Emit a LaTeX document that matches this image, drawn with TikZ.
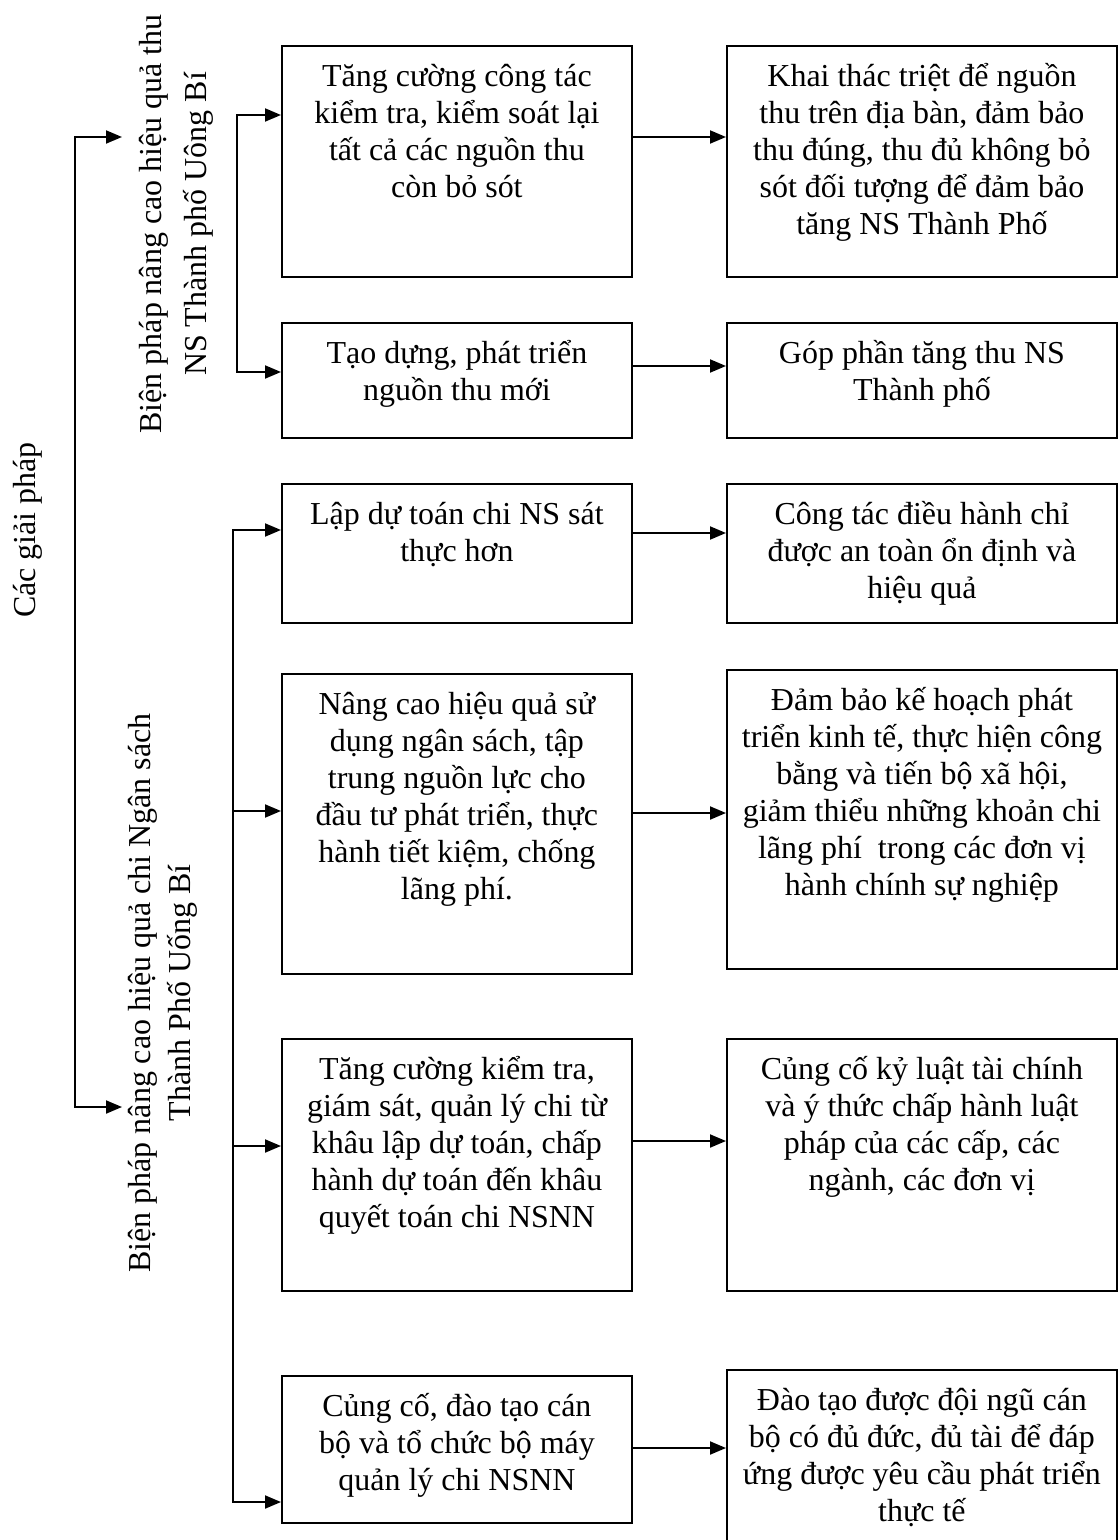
\documentclass[tikz,border=0pt]{standalone}
\usepackage{fontspec}
\setmainfont{Liberation Serif}
\usepackage{tikz}
\usetikzlibrary{arrows.meta}
\tikzstyle{box}=[draw=black, line width=1.1pt, inner sep=0pt, anchor=north west]
\tikzstyle{sidetext}=[rotate=90, align=center, inner sep=0pt]
\tikzstyle{arrow}=[draw=black, line width=1.1pt, -{Triangle[length=3.2mm,width=2.6mm]}]
\tikzstyle{twoway}=[draw=black, line width=1.1pt, {Triangle[length=3.2mm,width=2.6mm]}-{Triangle[length=3.2mm,width=2.6mm]}]
\newcommand{\boxtext}[3]{\parbox[t][#2][t]{#1}{\centering\rule{0pt}{0.82cm}#3}}

\begin{document}
\begin{tikzpicture}[x=0.02cm, y=-0.02cm, every node/.style={font=\fontsize{18.2pt}{21pt}\selectfont}]
		   \useasboundingbox (0,0) rectangle (1118,1540);
		   \begin{scope}
			   \node (goc) at (35, 530)[rotate=90, anchor=base, inner sep=0pt] {Các giải pháp};
			   \node (thu) at (176, 224)[sidetext, font=\fontsize{18.2pt}{25.6pt}\selectfont] {Biện pháp nâng cao hiệu quả thu\\ NS Thành phố Uông Bí};
			   \node (chi) at (163, 993)[sidetext, font=\fontsize{18.2pt}{22.8pt}\selectfont] {Biện pháp nâng cao hiệu quả chi Ngân sách\\ Thành Phố Uống Bí};
			   \node (L1) at (281, 45)[box] {\boxtext{7cm}{4.62cm}{Tăng cường công tác\\ kiểm tra, kiểm soát lại\\ tất cả các nguồn thu\\ còn bỏ sót}};
			   \node (R1) at (726, 45)[box] {\boxtext{7.8cm}{4.62cm}{Khai thác triệt để nguồn\\ thu trên địa bàn, đảm bảo\\ thu đúng, thu đủ không bỏ\\ sót đối tượng để đảm bảo\\ tăng NS Thành Phố}};
			   \node (L2) at (281, 322)[box] {\boxtext{7cm}{2.3cm}{Tạo dựng, phát triển\\ nguồn thu mới}};
			   \node (R2) at (726, 322)[box] {\boxtext{7.8cm}{2.3cm}{Góp phần tăng thu NS\\ Thành phố}};
			   \node (L3) at (281, 483)[box] {\boxtext{7cm}{2.78cm}{Lập dự toán chi NS sát\\ thực hơn}};
			   \node (R3) at (726, 483)[box] {\boxtext{7.8cm}{2.78cm}{Công tác điều hành chỉ\\ được an toàn ổn định và\\ hiệu quả}};
			   \node (L4) at (281, 673)[box] {\boxtext{7cm}{6cm}{Nâng cao hiệu quả sử\\ dụng ngân sách, tập\\ trung nguồn lực cho\\ đầu tư phát triển, thực\\ hành tiết kiệm, chống\\ lãng phí.}};
			   \node (R4) at (726, 669)[box] {\boxtext{7.8cm}{5.98cm}{Đảm bảo kế hoạch phát\\ triển kinh tế, thực hiện công\\ bằng và tiến bộ xã hội,\\ giảm thiểu những khoản chi\\ lãng phí\ \ trong các đơn vị\\ hành chính sự nghiệp}};
			   \node (L5) at (281, 1038)[box] {\boxtext{7cm}{5.04cm}{Tăng cường kiểm tra,\\ giám sát, quản lý chi từ\\ khâu lập dự toán, chấp\\ hành dự toán đến khâu\\ quyết toán chi NSNN}};
			   \node (R5) at (726, 1038)[box] {\boxtext{7.8cm}{5.04cm}{Củng cố kỷ luật tài chính\\ và ý thức chấp hành luật\\ pháp của các cấp, các\\ ngành, các đơn vị}};
			   \node (L6) at (281, 1375)[box] {\boxtext{7cm}{2.94cm}{Củng cố, đào tạo cán\\ bộ và tổ chức bộ máy\\ quản lý chi NSNN}};
			   \node (R6) at (726, 1369)[box] {\boxtext{7.8cm}{3.9cm}{Đào tạo được đội ngũ cán\\ bộ có đủ đức, đủ tài để đáp\\ ứng được yêu cầu phát triển\\ thực tế}};
		   \end{scope}
		   \begin{scope}
			   \coordinate (o1) at (75, 137);
			   \coordinate (o2) at (75, 1107);
			   \coordinate (tthu) at (122, 137);
			   \coordinate (tchi) at (122, 1107);
			   \coordinate (u1) at (237, 115);
			   \coordinate (u2) at (237, 372);
			   \coordinate (d3) at (233, 530);
			   \coordinate (d4) at (233, 811);
			   \coordinate (d5) at (233, 1146);
			   \coordinate (d6) at (233, 1502);
			   \coordinate (h1) at (680, 137);
			   \coordinate (h2) at (680, 366);
			   \coordinate (h3) at (680, 533);
			   \coordinate (h4) at (680, 813);
			   \coordinate (h5) at (680, 1141);
			   \coordinate (h6) at (680, 1448);
		   \end{scope}
		   \begin{scope}
			   \draw [twoway] (tthu) -- (o1) -- (o2) -- (tchi);
			   \draw [twoway] (L1.west |- u1) -- (u1) -- (u2) -- (L2.west |- u2);
			   \draw [twoway] (L3.west |- d3) -- (d3) -- (d6) -- (L6.west |- d6);
			   \draw [arrow] (d4) -- (L4.west |- d4);
			   \draw [arrow] (d5) -- (L5.west |- d5);
			   \draw [arrow] (L1.east |- h1) -- (R1.west |- h1);
			   \draw [arrow] (L2.east |- h2) -- (R2.west |- h2);
			   \draw [arrow] (L3.east |- h3) -- (R3.west |- h3);
			   \draw [arrow] (L4.east |- h4) -- (R4.west |- h4);
			   \draw [arrow] (L5.east |- h5) -- (R5.west |- h5);
			   \draw [arrow] (L6.east |- h6) -- (R6.west |- h6);
		   \end{scope}
\end{tikzpicture}
\end{document}
